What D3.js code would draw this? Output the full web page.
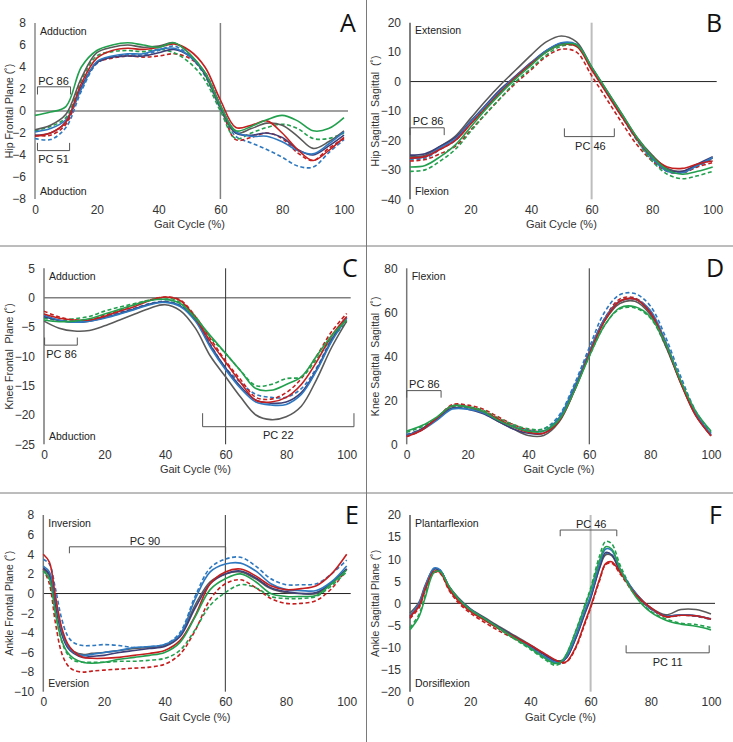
<!DOCTYPE html>
<html><head><meta charset="utf-8">
<script src="https://cdn.jsdelivr.net/npm/d3@7"></script>
<style>html,body{margin:0;padding:0;background:#fff}svg{display:block}</style>
</head><body>
<script>
// ---------- DATA ----------
const gridStd = [0,5,10,15,20,25,30,35,40,45,50,55,60,65,70,75,80,85,90,95,100];
const gridE = [0,2,4,6,8,10,13,16,20,25,30,35,40,45,50,55,60,65,70,75,80,85,90,95,100];
const gridF = [0,3,5,8,10,13,16,20,25,30,35,40,45,48,50,52,55,58,60,63,65,67,70,75,80,85,90,95,100];

const xTicks = [0,20,40,60,80,100];
const ticksA = [-8,-6,-4,-2,0,2,4,6,8];
const ticksB = [-40,-30,-20,-10,0,10,20];
const ticksC = [-25,-20,-15,-10,-5,0,5];
const ticksD = [0,20,40,60,80];
const ticksE = [-10,-8,-6,-4,-2,0,2,4,6,8];
const ticksF = [-20,-15,-10,-5,0,5,10,15,20];

// A: Hip frontal plane
const A_grey  = [-1.7,-1.3,-0.3,3.0,5.3,5.8,6.0,5.8,5.9,6.2,5.2,3.3,0.3,-2.0,-1.6,-1.1,-1.3,-2.3,-3.4,-2.8,-1.8];
const A_navy  = [-2.2,-2.0,-1.0,2.2,4.4,4.9,5.0,5.0,5.3,5.6,5.0,3.4,0.5,-2.0,-2.2,-2.0,-2.4,-3.5,-4.0,-3.2,-2.2];
const A_blue  = [-1.9,-1.6,-0.8,2.0,4.5,5.0,5.2,5.2,5.6,5.7,5.0,3.5,0.5,-1.9,-2.3,-2.3,-2.8,-3.6,-3.9,-3.0,-1.9];
const A_blueD = [-2.5,-2.6,-1.5,1.8,4.3,4.9,5.1,5.1,5.5,5.9,5.0,3.2,0.2,-2.3,-2.9,-3.5,-4.2,-5.0,-5.1,-3.8,-2.6];
const A_red   = [-2.3,-2.0,-1.0,2.5,4.8,5.5,5.7,5.6,5.8,6.1,5.5,4.0,1.0,-1.5,-1.3,-0.9,-2.0,-3.5,-4.5,-3.6,-2.4];
const A_redD  = [-2.2,-2.2,-1.2,2.2,4.4,4.8,5.0,4.9,5.0,5.2,4.8,3.5,0.5,-2.6,-2.4,-2.0,-2.5,-3.8,-4.5,-3.4,-2.5];
const A_green = [-0.4,-0.1,0.4,4.0,5.5,6.0,6.2,6.0,5.8,6.2,5.2,3.5,0.5,-1.8,-1.4,-0.8,-0.4,-0.9,-1.8,-1.6,-0.6];
const A_greenD= [-1.8,-1.4,-0.6,2.8,5.0,5.4,5.5,5.4,5.6,5.3,4.4,2.8,0.0,-2.5,-2.0,-1.5,-1.2,-1.6,-2.5,-2.5,-2.0];

// B: Hip sagittal
const B_grey  = [-25.5,-25,-22,-18.5,-12.5,-6.5,-1,4,9,13.5,15.5,13.5,5,-3,-11,-19,-25,-29.5,-30.5,-28.5,-26];
const B_navy  = [-25,-24.5,-22,-19,-13.5,-8,-2.5,2,6.5,10.5,13,12.3,4.5,-3.5,-11.5,-19.5,-26,-30,-30.5,-28,-25.5];
const B_blue  = [-26,-25.5,-22.5,-19.5,-13.8,-8.3,-3,1.8,6.3,10.5,13.2,12.6,4.8,-3.5,-11.5,-19.5,-26,-30.5,-31,-28.5,-25.8];
const B_blueD = [-26.5,-26,-23,-20,-14.2,-8.8,-3.4,1.5,6,10.2,12.8,12.5,4.5,-3.8,-12,-20,-26.5,-30.5,-31,-28.8,-26.2];
const B_red   = [-26,-25.5,-23,-20,-14.5,-9,-3.5,1.5,6,10,12.5,12,4,-4,-12,-19.5,-25.5,-29,-29.5,-28,-27];
const B_redD  = [-27,-26.5,-24.5,-22,-16.5,-11,-5.5,-0.5,4,8.5,11,10,2,-6,-14,-21.5,-27,-30.5,-31,-29,-27.5];
const B_green = [-29,-28.5,-25.5,-21.5,-15.5,-9.5,-4,1,5.5,10,12.5,12.5,5,-3,-11,-19,-25.5,-30,-31.5,-30.5,-29];
const B_greenD= [-30.5,-30,-27,-23,-17,-11,-5.5,0,4.5,9,12,12,4.5,-3.5,-11.5,-20,-27,-31.5,-33,-32,-30.5];

// C: Knee frontal plane
const C_grey  = [-4,-5.2,-5.7,-5.6,-4.8,-3.8,-2.8,-1.8,-1.2,-2.2,-5.2,-10,-13.5,-17,-20,-20.8,-20.3,-18.5,-14,-8.5,-4];
const C_navy  = [-3.2,-3.9,-4.2,-4,-3.4,-2.7,-1.9,-1.1,-0.7,-1.4,-3.8,-8.2,-12,-15.2,-17.5,-18,-17.8,-16.2,-12.3,-7.3,-3.4];
const C_blue  = [-3,-3.8,-4.2,-4,-3.5,-2.8,-2,-1.2,-0.8,-1.5,-4,-8.5,-12.3,-15.5,-17.8,-18.3,-18.2,-16.5,-12.5,-7.5,-3.5];
const C_blueD = [-3.3,-3.9,-4,-3.8,-3.2,-2.5,-1.8,-1,-0.6,-1.3,-3.5,-8,-12,-14.5,-16.5,-17,-17,-15.5,-12,-7,-3.5];
const C_red   = [-2.8,-3.5,-3.8,-3.8,-3.2,-2.3,-1.5,-0.5,0.1,-0.5,-3.5,-7.5,-11,-14.5,-17.5,-17.8,-17,-14.8,-11,-6.5,-3.2];
const C_redD  = [-2.3,-3.3,-3.8,-3.8,-3,-2.1,-1.2,-0.4,0.1,-0.4,-3.2,-7,-10.8,-14,-17,-17.3,-16.2,-13.8,-10,-5.8,-2.7];
const C_green = [-3.8,-4.1,-4,-3.6,-2.8,-2,-1.2,-0.5,-0.3,-1,-3.5,-6.5,-9.5,-12.5,-15.5,-15.8,-14.8,-13.5,-10,-6.5,-3.8];
const C_greenD= [-3.5,-3.9,-3.6,-3.2,-2.3,-1.6,-1,-0.4,0,-0.8,-3.2,-6.8,-9.5,-12.5,-15,-14.8,-13.8,-13.5,-10.5,-7,-4.2];

// D: Knee sagittal
const D_grey  = [4,7,12,17.5,17,14.5,10.5,7,4,4,10,24,41,56,64,65,59,45,28,13,4];
const D_navy  = [4,7,11.5,16.5,16,14,10.5,7,5,5,11,25,42,57,65,66,60,46,28.5,13.5,4];
const D_blue  = [4,6.5,11,16,16,14.5,11,8,6,6,12,26,42,57,65,66,61,47,29,14,4.5];
const D_blueD = [4.5,7,11.5,16.5,16.5,15,11.5,8.5,6.5,7,13,27,44,60,68,68.5,63,49,31,15,5];
const D_red   = [3.5,6.5,12,17.5,17,15,11.5,8,5.5,5,10.5,24,41,56,65,66,60,46,28,13,3.8];
const D_redD  = [3.5,6.5,12,18,17.8,16,12.5,9,6.5,6,11.5,25,42,57,66,66.5,60.5,46.5,28.5,13.5,4];
const D_green = [6,8.5,12.5,17.5,17,15,11,8,6,6,11,24,40,54,62,62.5,58,46,29,15,6];
const D_greenD= [5.5,8,12,17,17,15.5,12,9,7,7,12,25,40,54,61.5,62,57.5,45,28.5,14,5.5];

// E: Ankle frontal plane
const E_grey  = [2.5,1.8,-1.2,-4,-5.4,-5.9,-6.2,-6.1,-6,-5.8,-5.6,-5.5,-5.3,-4.3,-1.2,1.2,2,2.2,1.5,0.5,0.1,0,0,1,2.5];
const E_navy  = [2.6,2,-1,-4,-5.5,-6.1,-6.5,-6.4,-6.3,-6,-5.8,-5.6,-5.4,-4.4,-1.5,1,2,2.3,1.6,0.6,0.2,0,0.1,1.1,2.5];
const E_blue  = [2.8,2.2,-0.5,-3.7,-5.3,-6,-6.3,-6.2,-6,-5.8,-5.5,-5.4,-5.2,-4.2,-0.6,2.2,3,3.1,2.3,1,0.4,0.3,0.3,1.2,2.8];
const E_blueD = [3.5,3,0.5,-2.5,-4.3,-5,-5.3,-5.3,-5.2,-5.3,-5.5,-5.4,-5.2,-4,-0.3,2.6,3.5,3.7,2.8,1.5,0.9,0.9,1,2,3.4];
const E_red   = [4,3.2,-0.3,-3.4,-5.1,-5.9,-6.5,-6.6,-6.6,-6.5,-6.3,-6.1,-5.8,-4.8,-2.3,1,2.2,2.5,1.8,0.8,0.4,0.5,0.8,2,4];
const E_redD  = [2.5,1,-3,-6,-7.3,-7.8,-8,-7.9,-7.8,-7.7,-7.6,-7.5,-7.2,-6.2,-3.8,-0.6,1,1.4,0.6,-0.5,-1,-1,-0.7,0.5,2.5];
const E_green = [2.3,1.5,-2,-4.7,-6,-6.6,-7,-7.1,-7,-6.7,-6.5,-6.3,-6,-5,-2.4,0.4,1.5,2,1.2,0,-0.3,-0.3,-0.2,1,2.4];
const E_greenD= [2.3,1.5,-2,-4.8,-6.2,-6.8,-7,-7,-7,-6.9,-6.9,-6.8,-6.6,-5.8,-3.7,-1.2,0.1,0.9,0.6,-0.3,-0.5,-0.5,-0.3,0.8,2.2];

// F: Ankle sagittal plane
const F_grey  = [-2.2,0.3,4,7.8,7.4,3.8,1.3,-1.2,-3.3,-5.4,-7.4,-9.4,-11.6,-12.8,-13,-12.3,-8,-2.5,1.2,8,11,10.8,7,2.3,-1,-2.6,-1.4,-1.4,-2.4];
const F_navy  = [-3,-0.2,3.5,7.8,7.4,3.6,1.1,-1.3,-3.5,-5.6,-7.6,-9.6,-11.8,-13,-13.2,-12.3,-8,-2.3,1.2,8.2,11.5,11,7,2.2,-1.2,-2.8,-2.6,-2.8,-3.5];
const F_blue  = [-2.8,0,3.8,8,7.6,3.7,1.1,-1.3,-3.6,-5.8,-7.8,-10,-12.2,-13.3,-13.3,-12,-7.5,-1.8,1.8,9,12.3,12,7.5,2.3,-1.2,-2.9,-2.6,-2.8,-3.6];
const F_blueD = [-3.3,-0.5,3.3,7.8,7.5,3.4,0.9,-1.5,-3.7,-5.9,-7.9,-10,-12.3,-13.5,-13.6,-12.2,-7.8,-2,1.5,8.5,11.3,11,7.2,2.2,-1.3,-3,-2.7,-2.9,-3.7];
const F_red   = [-3,-0.6,3.2,7.3,7,3.2,0.6,-1.8,-3.9,-5.9,-7.7,-9.5,-11.5,-12.7,-13.3,-13.2,-10,-4.5,-0.8,5.5,9,9.4,6.8,2,-1,-3,-2.7,-2.8,-3.6];
const F_redD  = [-3.4,-1,2.8,7,6.8,2.9,0.2,-2.2,-4.4,-6.4,-8.1,-9.9,-11.8,-13,-13.5,-13.3,-10.2,-4.8,-1,5.2,8.8,9.1,6.5,1.8,-1.2,-3,-2.7,-2.9,-3.6];
const F_green = [-6,-3,1.2,7,7.2,3.8,1.1,-1.4,-3.6,-5.8,-8,-10.2,-12.5,-13.6,-13.3,-11.5,-6.5,-0.8,3,9.8,12.8,12.3,7.5,1.5,-2,-3.8,-4.7,-5.2,-6];
const F_greenD= [-5.5,-2.5,1.8,7.3,7.3,3.7,1,-1.5,-3.8,-6,-8.2,-10.4,-12.8,-14,-13.6,-11.5,-6.4,-0.5,3.4,10.8,14,13.5,8.3,1.8,-1.8,-3.5,-4.5,-4.8,-5.5];

// ---------- STYLES ----------
const seriesStyles = [
  {color:'#2e78c0', dash:'4,2.5'},
  {color:'#c41e1e', dash:'4,2.5'},
  {color:'#22a04e', dash:'4,2.5'},
  {color:'#5a5a5a', dash:null},
  {color:'#3f3f78', dash:null},
  {color:'#2e78c0', dash:null},
  {color:'#c41e1e', dash:null},
  {color:'#22a04e', dash:null}
];
const order = (g,n,b,bd,r,rd,gr,grd) => [bd,rd,grd,g,n,b,r,gr];

const panels = [
  {letter:'A', grid:gridStd, series:order(A_grey,A_navy,A_blue,A_blueD,A_red,A_redD,A_green,A_greenD),
   dom:[-8,8], ticks:ticksA, box:[35,344,23,199], ytitle:'Hip Frontal Plane (˚)', titleX:9,
   vline:'#808080', vw:1.5, zero:'#808080', zw:1.5, axisC:'#8a8a8a',
   top:'Adduction', bot:'Abduction', letterPos:[340,23],
   brackets:[{x:[0.8,11.5],bar:2.2,leg:1.5,label:'PC 86',lx:6,ly:2.75},
             {x:[0.8,11.2],bar:-3.6,leg:-2.9,label:'PC 51',lx:6,ly:-4.4}]},
  {letter:'B', grid:gridStd, series:order(B_grey,B_navy,B_blue,B_blueD,B_red,B_redD,B_green,B_greenD),
   dom:[-40,20], ticks:ticksB, box:[410,712.7,22.7,199.3], ytitle:'Hip Sagittal  Sagittal  (˚)', titleX:375,
   vline:'#bdbdbd', vw:2, zero:'#222', zw:1, axisC:'#555',
   top:'Extension', bot:'Flexion', letterPos:[706,23],
   brackets:[{x:[0,11.3],bar:-15.7,leg:-18.2,label:'PC 86',lx:6,ly:-13.4},
             {x:[51,67.5],bar:-18.7,leg:-15.9,label:'PC 46',lx:59.6,ly:-21.8}]},
  {letter:'C', grid:gridStd, series:order(C_grey,C_navy,C_blue,C_blueD,C_red,C_redD,C_green,C_greenD),
   dom:[-25,5], ticks:ticksC, box:[44,346.7,268.3,444.3], ytitle:'Knee Frontal  Plane (˚)', titleX:9,
   vline:'#333', vw:1, zero:'#808080', zw:1.5, axisC:'#777',
   top:'Adduction', bot:'Abduction', letterPos:[342,268],
   brackets:[{x:[0.2,11],bar:-8.1,leg:-6.8,label:'PC 86',lx:5.8,ly:-9.6},
             {x:[52.4,102.4],bar:-22,leg:-19.7,label:'PC 22',lx:77.4,ly:-23.5}]},
  {letter:'D', grid:gridStd, series:order(D_grey,D_navy,D_blue,D_blueD,D_red,D_redD,D_green,D_greenD),
   dom:[0,80], ticks:ticksD, box:[406.7,711,268.3,444.3], ytitle:'Knee Sagittal  Sagittal  (˚)', titleX:375,
   vline:'#333', vw:1, zero:null, axisC:'#777',
   top:'Flexion', bot:null, letterPos:[706,268],
   brackets:[{x:[0,11.3],bar:24.4,leg:21.2,label:'PC 86',lx:5.8,ly:27.3}]},
  {letter:'E', grid:gridE, series:order(E_grey,E_navy,E_blue,E_blueD,E_red,E_redD,E_green,E_greenD),
   dom:[-10,8], ticks:ticksE, box:[43.3,346.7,515,691.7], ytitle:'Ankle Frontal Plane (˚)', titleX:9,
   vline:'#333', vw:1, zero:'#222', zw:1, axisC:'#777',
   top:'Inversion', bot:'Eversion', letterPos:[345,515],
   brackets:[{x:[8.6,60.1],bar:4.76,leg:4.1,label:'PC 90',lx:33.5,ly:5.35}]},
  {letter:'F', grid:gridF, series:order(F_grey,F_navy,F_blue,F_blueD,F_red,F_redD,F_green,F_greenD),
   dom:[-20,20], ticks:ticksF, box:[410,711,515,691.7], ytitle:'Ankle Sagittal Plane (˚)', titleX:375,
   vline:'#bdbdbd', vw:2, zero:'#222', zw:1, axisC:'#555',
   top:'Plantarflexion', bot:'Dorsiflexion', letterPos:[709,515],
   brackets:[{x:[49.9,68.7],bar:16.6,leg:15.2,label:'PC 46',lx:60.2,ly:17.9},
             {x:[71.8,99.4],bar:-11.2,leg:-9.5,label:'PC 11',lx:85.6,ly:-13.4}]}
];

// ---------- DRAW ----------
const W = 733, H = 742;
const FONT = '"Liberation Sans", Arial, sans-serif';
const svg = d3.select('body').append('svg').attr('width', W).attr('height', H)
  .style('font-family', FONT);

// dividers
svg.append('line').attr('x1',366.5).attr('x2',366.5).attr('y1',0).attr('y2',H).attr('stroke','#7a7a7a').attr('stroke-width',1);
svg.append('line').attr('x1',0).attr('x2',W).attr('y1',246).attr('y2',246).attr('stroke','#7a7a7a').attr('stroke-width',1);
svg.append('line').attr('x1',0).attr('x2',W).attr('y1',493).attr('y2',493).attr('stroke','#7a7a7a').attr('stroke-width',1);

panels.forEach(p => {
  const [x0,x1,y0,y1] = p.box;
  const x = d3.scaleLinear().domain([0,100]).range([x0,x1]);
  const y = d3.scaleLinear().domain(p.dom).range([y1,y0]);
  const g = svg.append('g');

  // y tick labels
  const ya = d3.axisLeft(y).tickValues(p.ticks).tickSize(0).tickPadding(9);
  const yg = g.append('g').attr('transform',`translate(${x0},0)`).call(ya);
  yg.select('.domain').remove();
  yg.selectAll('text').attr('font-size',12).attr('fill','#333').style('font-family',FONT);

  // x tick labels
  const xa = d3.axisBottom(x).tickValues(xTicks).tickSize(0).tickPadding(6);
  const xg = g.append('g').attr('transform',`translate(0,${y1})`).call(xa);
  xg.select('.domain').remove();
  xg.selectAll('text').attr('font-size',12).attr('fill','#333').style('font-family',FONT);

  // x title
  g.append('text').attr('x',(x0+x1)/2).attr('y',y1+25).attr('dy','0.35em')
    .attr('text-anchor','middle').attr('font-size',11).attr('fill','#333').text('Gait Cycle (%)');
  // y title
  g.append('text').attr('transform',`translate(${p.titleX},${(y0+y1)/2}) rotate(-90)`)
    .attr('dy','0.35em').attr('text-anchor','middle').attr('font-size',10.5).attr('fill','#333')
    .style('white-space','pre').text(p.ytitle);

  // zero line
  if (p.zero) g.append('line').attr('x1',x0).attr('x2',x1+4).attr('y1',y(0)).attr('y2',y(0))
    .attr('stroke',p.zero).attr('stroke-width',p.zw);
  // vertical 60% line
  g.append('line').attr('x1',x(60)).attr('x2',x(60)).attr('y1',y0).attr('y2',y1)
    .attr('stroke',p.vline).attr('stroke-width',p.vw);
  // y axis line
  g.append('line').attr('x1',x0).attr('x2',x0).attr('y1',y0).attr('y2',y1)
    .attr('stroke',p.axisC).attr('stroke-width',1.5);

  // direction labels
  g.append('text').attr('x',x0+5).attr('y',y0+8).attr('dy','0.35em').attr('font-size',10.5).attr('fill','#222').text(p.top);
  if (p.bot) g.append('text').attr('x',x0+5).attr('y',y1-8).attr('dy','0.35em').attr('font-size',10.5).attr('fill','#222').text(p.bot);

  // brackets
  p.brackets.forEach(b => {
    const path = d3.path();
    path.moveTo(x(b.x[0]), y(b.leg)); path.lineTo(x(b.x[0]), y(b.bar));
    path.lineTo(x(b.x[1]), y(b.bar)); path.lineTo(x(b.x[1]), y(b.leg));
    g.append('path').attr('d',path.toString()).attr('fill','none').attr('stroke','#555').attr('stroke-width',1);
    g.append('text').attr('x',x(b.lx)).attr('y',y(b.ly)).attr('dy','0.35em').attr('text-anchor','middle')
      .attr('font-size',11).attr('fill','#222').text(b.label);
  });

  // curves
  const line = d3.line().x(d => x(d[0])).y(d => y(d[1])).curve(d3.curveCatmullRom.alpha(0.5));
  p.series.forEach((vals, i) => {
    const st = seriesStyles[i];
    g.append('path').datum(p.grid.map((gx, k) => [gx, vals[k]]))
      .attr('d', line).attr('fill','none').attr('stroke',st.color).attr('stroke-width',1.6)
      .attr('stroke-dasharray', st.dash).attr('stroke-linejoin','round');
  });

  // panel letter
  g.append('text').attr('x',p.letterPos[0]).attr('y',p.letterPos[1]).attr('dy','0.36em')
    .attr('font-size',25).attr('fill','#111').style('font-family','"Open Sans", "Noto Sans", sans-serif').text(p.letter);
});
</script>
</body></html>
